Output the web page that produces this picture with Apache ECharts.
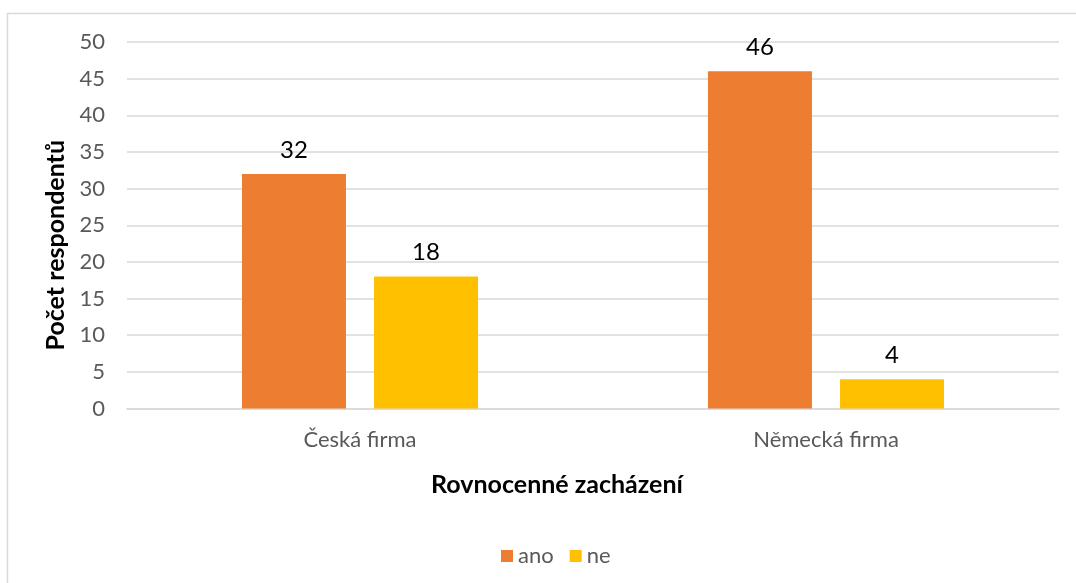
<!DOCTYPE html>
<html>
<head>
<meta charset="utf-8">
<script src="https://cdn.jsdelivr.net/npm/echarts@6/dist/echarts.min.js"></script>
<style>html,body{margin:0;padding:0;background:#fff;}#c{width:1076px;height:583px;}</style>
</head>
<body>
<div id="c"></div>
<script>
const categories = ['Česká firma', 'Německá firma'];
const seriesNames = ['ano', 'ne'];
const anoValues = [32, 46];
const neValues = [18, 4];
const yTicks = { min: 0, max: 50, interval: 5 };

const FONT = 'Lato, "Open Sans", sans-serif';
const chart = echarts.init(document.getElementById('c'));
chart.setOption({
  animation: false,
  textStyle: { fontFamily: FONT },
  graphic: [{
    type: 'rect', silent: true,
    shape: { x: 7.5, y: 13.5, width: 1100, height: 620 },
    style: { fill: 'none', stroke: '#d9d9d9', lineWidth: 1.5 }
  }],
  grid: { left: 127, right: 17, top: 42, bottom: 174.5 },
  legend: {
    data: seriesNames, left: 496, top: 540, itemWidth: 12, itemHeight: 12, itemGap: 16,
    icon: 'rect',
    textStyle: { fontSize: 22, color: '#595959', fontFamily: FONT }
  },
  xAxis: {
    type: 'category', data: categories,
    axisLine: { lineStyle: { color: '#d9d9d9', width: 1.5 } },
    axisTick: { show: false },
    axisLabel: { fontSize: 22, color: '#595959', margin: 20, fontFamily: FONT },
    name: 'Rovnocenné zacházení', nameLocation: 'middle', nameGap: 64,
    nameTextStyle: { fontSize: 25, fontWeight: 'bold', color: '#000', fontFamily: FONT, padding: [0, 72, 0, 0] }
  },
  yAxis: {
    type: 'value', min: yTicks.min, max: yTicks.max, interval: yTicks.interval,
    axisLine: { show: false }, axisTick: { show: false },
    axisLabel: { fontSize: 22, color: '#595959', margin: 22, fontFamily: FONT },
    splitLine: { lineStyle: { color: '#d9d9d9', width: 1.5 } },
    name: 'Počet respondentů', nameLocation: 'middle', nameGap: 58, nameRotate: 90,
    nameTextStyle: { fontSize: 25, fontWeight: 'bold', color: '#000', fontFamily: FONT, padding: [0, 40, 0, 0] }
  },
  series: [
    { name: 'ano', type: 'bar', data: anoValues, barWidth: 104, barGap: '27%',
      itemStyle: { color: '#ED7D31' },
      label: { show: true, position: 'top', distance: 12, fontSize: 24, color: '#000', fontFamily: FONT } },
    { name: 'ne', type: 'bar', data: neValues, barWidth: 104,
      itemStyle: { color: '#FFC000' },
      label: { show: true, position: 'top', distance: 12, fontSize: 24, color: '#000', fontFamily: FONT } }
  ]
});
</script>
</body>
</html>
